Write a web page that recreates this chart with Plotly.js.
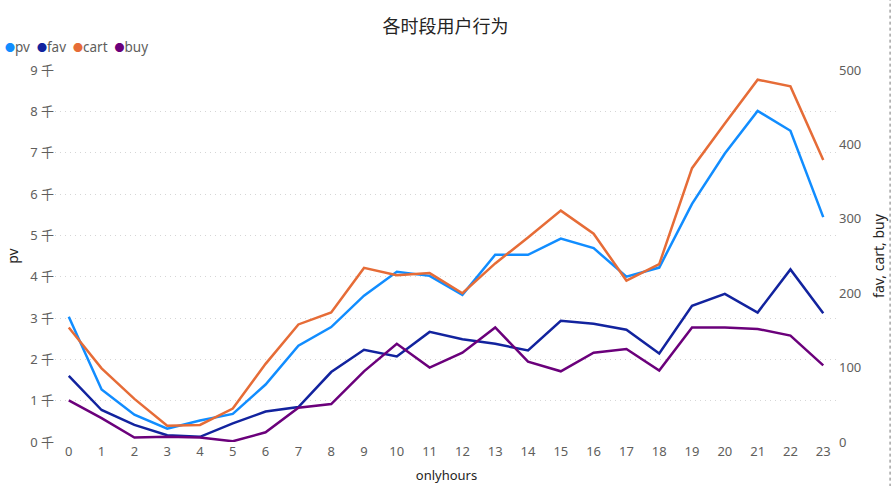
<!DOCTYPE html>
<html>
<head>
<meta charset="utf-8">
<script src="https://cdn.plot.ly/plotly-3.0.1.min.js"></script>
<style>html,body{margin:0;padding:0;background:#fff;}#chart{width:891px;height:486px;}</style>
</head>
<body>
<div id="chart"></div>
<script>
var hours = [0,1,2,3,4,5,6,7,8,9,10,11,12,13,14,15,16,17,18,19,20,21,22,23];
var pv   = [3030,1270,660,320,520,680,1390,2330,2780,3540,4120,4020,3560,4530,4530,4920,4690,4000,4220,5760,6980,8010,7530,5440];
var fav  = [89,43,23,9,7,25,41,47,94,124,115,148,138,132,123,163,159,151,119,183,199,174,232,173];
var cart = [154,99,58,22,23,45,105,158,174,234,224,227,200,240,275,311,280,217,239,368,428,487,478,379];
var buy  = [56,32,6,7,6,1,13,46,51,95,132,100,120,154,108,95,120,125,96,154,154,152,143,103];
var seriesNames = ['pv','fav','cart','buy'];
var seriesColors = ['#118DFF','#12239E','#E66C37','#6B007B'];
var leftTickVals = [0,1000,2000,3000,4000,5000,6000,7000,8000,9000];
var leftTickText = ['0 千','1 千','2 千','3 千','4 千','5 千','6 千','7 千','8 千','9 千'];
var rightTickVals = [0,100,200,300,400,500];

var font = '"Noto Sans", "Noto Sans CJK SC", sans-serif';
var data = [pv, fav, cart, buy];
var traces = seriesNames.map(function(n, i){
  return {
    x: hours, y: data[i], name: n, type: 'scatter', mode: 'lines',
    yaxis: i === 0 ? 'y' : 'y2',
    line: {color: seriesColors[i], width: 2.5},
    showlegend: false
  };
});

var legendAnn = seriesNames.map(function(n,i){
  return '<span style="color:' + seriesColors[i] + ';font-size:10px">●</span>' + n;
}).join('&nbsp;&nbsp;');

var layout = {
  width: 891, height: 486,
  margin: {l: 55, r: 53, t: 70, b: 44},
  paper_bgcolor: '#fff', plot_bgcolor: '#fff',
  font: {family: font, color: '#605E5C', size: 13},
  title: {text: '各时段用户行为', x: 0.5, xanchor: 'center', y: 0.945, yanchor: 'middle',
          font: {family: '"Noto Sans CJK SC", sans-serif', size: 18, color: '#252423'}},
  showlegend: false,
  xaxis: {
    range: [-0.42, 23.45], tickvals: hours, ticktext: hours.map(String),
    showgrid: false, zeroline: false, showline: false, ticks: '',
    tickfont: {size: 13, color: '#605E5C'},
    title: {text: 'onlyhours', font: {size: 13, color: '#252423'}, standoff: 11}
  },
  yaxis: {
    range: [0, 9000], tickvals: leftTickVals, ticktext: leftTickText,
    showgrid: true, gridcolor: '#d6d6d6', griddash: '1px,4px', gridwidth: 1,
    zeroline: false, showline: false, ticks: '',
    tickfont: {size: 13, color: '#605E5C'},
    title: {text: 'pv', font: {size: 14, color: '#252423'}, standoff: 8}
  },
  yaxis2: {
    range: [0, 500], tickvals: rightTickVals, overlaying: 'y', side: 'right',
    showgrid: false, zeroline: false, showline: false, ticks: '',
    tickfont: {size: 13, color: '#605E5C'},
    title: {text: 'fav, cart, buy', font: {size: 14, color: '#252423'}, standoff: 13}
  },
  annotations: [{
    xref: 'paper', yref: 'paper', x: -0.066, y: 1.0, yshift: 23,
    xanchor: 'left', yanchor: 'middle', showarrow: false,
    text: legendAnn, font: {size: 13.5, color: '#605E5C', family: font}
  }],
  shapes: [{
    type: 'line', xref: 'paper', yref: 'paper',
    x0: 1.0665, x1: 1.0665, y0: -0.12, y1: 1.19,
    line: {color: '#777', width: 1, dash: 'dot'}
  }]
};

Plotly.newPlot('chart', traces, layout, {displayModeBar: false, staticPlot: true});
</script>
</body>
</html>
